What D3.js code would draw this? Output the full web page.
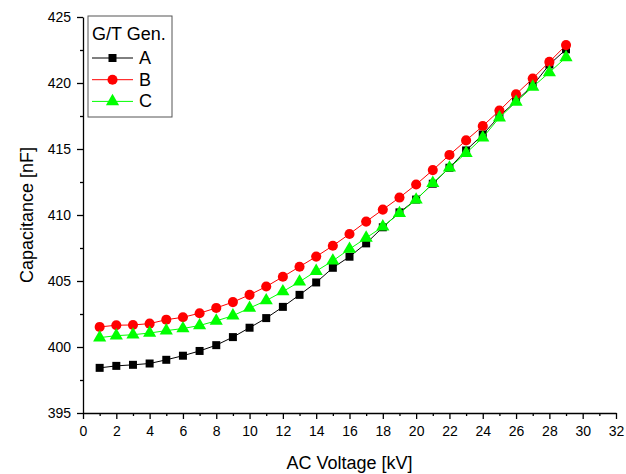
<!DOCTYPE html>
<html>
<head>
<meta charset="utf-8">
<script src="https://cdn.jsdelivr.net/npm/d3@7"></script>
<style>
  body { margin: 0; background: #fff; }
  text { font-family: Arial, "Liberation Sans", sans-serif; }
</style>
</head>
<body>
<svg id="chart" width="626" height="474"></svg>
<script>
// voltage steps (kV)
var voltage = [1,2,3,4,5,6,7,8,9,10,11,12,13,14,15,16,17,18,19,20,21,22,23,24,25,26,27,28,29];
// capacitance readings (nF) for each generator
var genA = [398.42,398.57,398.65,398.75,399.03,399.34,399.7,400.14,400.75,401.46,402.19,403.04,403.95,404.89,406.0,406.84,407.85,409.07,410.2,411.17,412.37,413.58,414.89,416.1,417.48,418.64,419.8,421.4,422.55];
var genB = [401.52,401.65,401.67,401.77,402.07,402.25,402.56,402.96,403.4,403.95,404.58,405.32,406.08,406.85,407.67,408.56,409.5,410.41,411.32,412.31,413.4,414.55,415.65,416.74,417.91,419.15,420.34,421.6,422.87];
var genC = [400.71,400.86,400.93,401.06,401.24,401.4,401.63,401.98,402.37,402.95,403.52,404.2,404.94,405.75,406.53,407.42,408.26,409.12,410.13,411.15,412.41,413.58,414.69,415.86,417.38,418.56,419.7,420.8,421.94];
var seriesNames = ["A", "B", "C"];
var seriesColors = ["#000000", "#ff0000", "#00ff00"];
var seriesShapes = [d3.symbolSquare, d3.symbolCircle, d3.symbolTriangle];
var xTicks = d3.range(0, 33, 2);
var yTicks = [395, 400, 405, 410, 415, 420, 425];

var svg = d3.select("#chart");
var margin = {left: 83, right: 10, top: 17, bottom: 61};
var width = 616 - margin.left, height = 413 - margin.top;

var x = d3.scaleLinear().domain([0, 32]).range([margin.left, margin.left + width]);
var y = d3.scaleLinear().domain([395, 425]).range([margin.top + height, margin.top]);

// minor ticks
svg.append("g")
    .attr("transform", "translate(0," + (margin.top + height) + ")")
    .call(d3.axisBottom(x).tickValues(d3.range(1, 32, 2)).tickSize(3).tickFormat(""))
    .call(function(g){ g.select(".domain").remove(); });
svg.append("g")
    .attr("transform", "translate(" + margin.left + ",0)")
    .call(d3.axisLeft(y).tickValues(d3.range(397.5, 425, 5)).tickSize(3).tickFormat(""))
    .call(function(g){ g.select(".domain").remove(); });

var xAxis = svg.append("g")
    .attr("transform", "translate(0," + (margin.top + height) + ")")
    .call(d3.axisBottom(x).tickValues(xTicks).tickSize(6).tickSizeOuter(0).tickPadding(7));
var yAxis = svg.append("g")
    .attr("transform", "translate(" + margin.left + ",0)")
    .call(d3.axisLeft(y).tickValues(yTicks).tickSize(6).tickSizeOuter(0).tickPadding(6));

svg.selectAll(".tick line, .domain").attr("stroke", "#000").attr("stroke-width", 1.3);
svg.selectAll(".tick text").attr("font-size", 14).attr("fill", "#000")
    .attr("font-family", "Arial, 'Liberation Sans', sans-serif");

svg.append("text")
    .attr("x", x(16)).attr("y", 469)
    .attr("text-anchor", "middle").attr("font-size", 18)
    .text("AC Voltage [kV]");
svg.append("text")
    .attr("transform", "translate(33," + y(410) + ") rotate(-90)")
    .attr("text-anchor", "middle").attr("font-size", 18)
    .text("Capacitance [nF]");

var allSeries = [genA, genB, genC];
var line = d3.line().x(function(d, i){ return x(voltage[i]); }).y(function(d){ return y(d); });
var sizes = [64, 80, 75];

allSeries.forEach(function(vals, k){
    svg.append("path")
        .datum(vals)
        .attr("d", line)
        .attr("fill", "none")
        .attr("stroke", seriesColors[k])
        .attr("stroke-width", 1);
    svg.append("g").selectAll("path")
        .data(vals)
      .enter().append("path")
        .attr("transform", function(d, i){ return "translate(" + x(voltage[i]) + "," + y(d) + ")"; })
        .attr("d", d3.symbol().type(seriesShapes[k]).size(sizes[k]))
        .attr("fill", seriesColors[k]);
});

// legend
var leg = svg.append("g").attr("transform", "translate(88,16)");
leg.append("rect").attr("width", 84).attr("height", 101)
    .attr("fill", "#fff").attr("stroke", "#555").attr("stroke-width", 1);
leg.append("text").attr("x", 4).attr("y", 24).attr("font-size", 18).text("G/T Gen.");
seriesNames.forEach(function(name, k){
    var cy = 42 + k * 21.7;
    leg.append("line").attr("x1", 4).attr("x2", 45).attr("y1", cy).attr("y2", cy)
        .attr("stroke", seriesColors[k]).attr("stroke-width", 1);
    leg.append("path")
        .attr("transform", "translate(24.5," + cy + ")")
        .attr("d", d3.symbol().type(seriesShapes[k]).size(sizes[k]))
        .attr("fill", seriesColors[k]);
    leg.append("text").attr("x", 51).attr("y", cy + 6).attr("font-size", 18).text(name);
});
</script>
</body>
</html>
